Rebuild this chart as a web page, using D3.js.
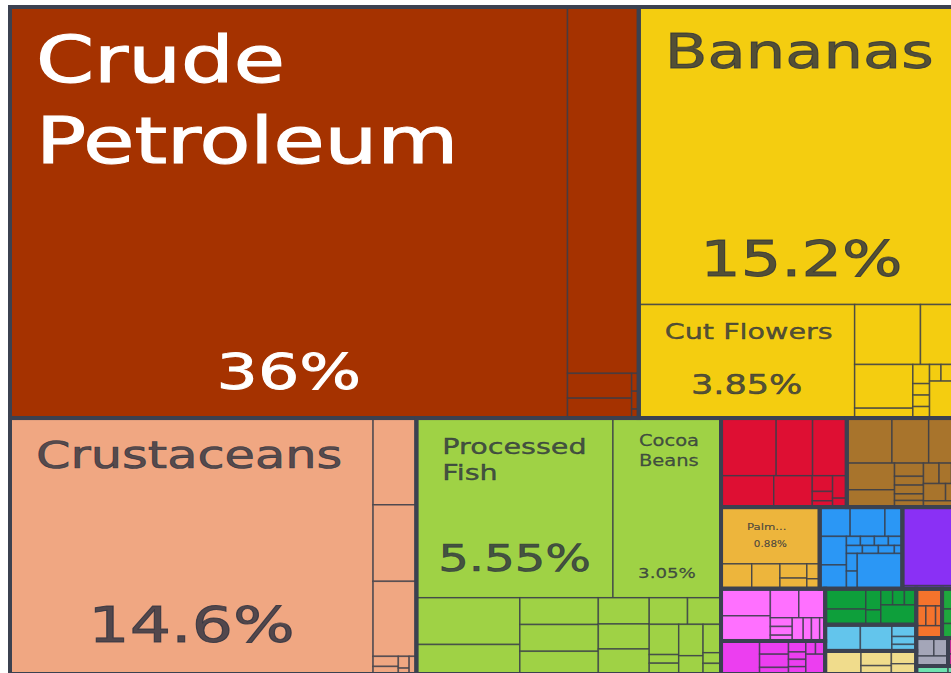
<!DOCTYPE html>
<html>
<head>
<meta charset="utf-8">
<script src="https://cdnjs.cloudflare.com/ajax/libs/d3/7.8.5/d3.min.js"></script>
<style>
  body { margin: 0; background: #fff; overflow: hidden; }
  svg { display: block; }
</style>
</head>
<body>
<div id="chart"></div>
<script>
// each block: [name, share of exports in %] for a product,
// ["h", [...]] for products side by side, ["v", [...]] for stacked ones
var mineralProducts = ["h", [
  ["Crude Petroleum", 36],
  ["v", [
    ["Refined Petroleum", 4.1],
    ["h", [
      ["v", [["Petroleum Gas", 0.25], ["Petroleum Coke", 0.2]]],
      ["v", [["Copper Ore", 0.02], ["Sulphur", 0.02], ["Gold Ore", 0.01]]]
    ]]
  ]]
]];

var vegetableProducts = ["v", [
  ["Bananas", 15.2],
  ["h", [
    ["Cut Flowers", 3.85],
    ["v", [
      ["h", [["Coffee", 0.62], ["Tropical Fruits", 0.41]]],
      ["h", [
        ["v", [["Other Fruits", 0.4], ["Vegetable Saps", 0.09]]],
        ["h", [
          ["v", [["Rice", 0.05], ["Seeds", 0.03], ["Tea", 0.03], ["Pepper", 0.03]]],
          ["v", [["h", [["Citrus", 0.03], ["Melons", 0.03], ["Nuts", 0.03]]], ["Live Plants", 0.2]]]
        ]]
      ]]
    ]]
  ]]
]];

var animalProducts = ["h", [
  ["Crustaceans", 14.6],
  ["v", [
    ["Fish Fillets", 0.59], ["Frozen Fish", 0.52], ["Fresh Fish", 0.51],
    ["h", [
      ["v", [["Molluscs", 0.04], ["Fish Meal", 0.03]]],
      ["v", [["Live Fish", 0.02], ["Shark Fins", 0.01]]],
      ["Dried Fish", 0.02]
    ]]
  ]]
]];

var foodstuffs = ["v", [
  ["h", [["Processed Fish", 5.55], ["Cocoa Beans", 3.05]]],
  ["h", [
    ["v", [["Processed Crustaceans", 0.76], ["Animal Food", 0.48]]],
    ["v", [["Cocoa Paste", 0.33], ["Cocoa Butter", 0.33], ["Fruit Juice", 0.28]]],
    ["v", [["Coffee Extracts", 0.21], ["Raw Sugar", 0.2], ["Chocolate", 0.2]]],
    ["v", [
      ["h", [["Processed Fruits", 0.16], ["Cocoa Powder", 0.14]]],
      ["h", [
        ["v", [["Flours", 0.14], ["Sauces", 0.04], ["Baked Goods", 0.05]]],
        ["v", [["Hard Liquor", 0.12], ["Pasta", 0.07]]],
        ["v", [["Water", 0.08], ["Beer", 0.03], ["Wine", 0.03]]]
      ]]
    ]]
  ]]
]];

var preciousMetals = ["v", [
  ["h", [["Gold", 0.5], ["Silver", 0.33], ["Gold Scraps", 0.31]]],
  ["h", [
    ["Jewellery", 0.26], ["Precious Metal Scraps", 0.19],
    ["h", [
      ["v", [["Pearls", 0.05], ["Platinum", 0.03], ["Coins", 0.02]]],
      ["v", [["Precious Stones", 0.05], ["Imitation Jewellery", 0.02]]]
    ]]
  ]]
]];

var woodProducts = ["v", [
  ["h", [["Sawn Wood", 0.32], ["Veneer Sheets", 0.26], ["Wood Chips", 0.25]]],
  ["h", [
    ["v", [["Rough Wood", 0.2], ["Plywood", 0.13]]],
    ["v", [["Fibreboard", 0.06], ["Particle Board", 0.04], ["Wood Crates", 0.04], ["Wood Fuel", 0.03], ["Wood Frames", 0.03]]],
    ["v", [
      ["h", [["Wood Joinery", 0.05], ["Charcoal", 0.04], ["Cork", 0.04]]],
      ["h", [["Wood Carpentry", 0.06], ["Wood Kitchenware", 0.05]]],
      ["Wood Ornaments", 0.04]
    ]]
  ]]
]];

var animalVegetableBiProducts = ["v", [
  ["Palm Oil", 0.88],
  ["h", [
    ["Palm Kernel Oil", 0.12], ["Fatty Acids", 0.11],
    ["v", [["Margarine", 0.06], ["Soybean Oil", 0.045]]],
    ["v", [["Waxes", 0.03], ["Glycerol", 0.02]]]
  ]]
]];

var metals = ["v", [
  ["h", [["Copper Wire", 0.14], ["Iron Structures", 0.16], ["Scrap Iron", 0.08]]],
  ["h", [
    ["v", [["Aluminium Scrap", 0.12], ["Copper Scrap", 0.1]]],
    ["v", [
      ["h", [["Nails", 0.02], ["Screws", 0.02], ["Iron Pipes", 0.02], ["Lead Scrap", 0.02]]],
      ["h", [["Iron Bars", 0.02], ["Iron Wire", 0.02], ["Tanks", 0.02], ["Tools", 0.01]]],
      ["h", [["v", [["Iron Sheets", 0.03], ["Zinc", 0.03]]], ["Metal Cans", 0.25]]]
    ]]
  ]]
]];

var machines = ["v", [["Air Conditioners", 0.76], ["Electric Motors", 0.03]]];

var plasticsAndRubbers = ["h", [
  ["v", [["Plastic Lids", 0.21], ["Plastic Boxes", 0.195]]],
  ["v", [
    ["h", [["Rubber Tires", 0.13], ["Plastic Pipes", 0.12]]],
    ["h", [
      ["v", [["Rubber Sheets", 0.03], ["Plastic Film", 0.03], ["Rubber Belts", 0.02]]],
      ["Plastic Bags", 0.04], ["Raw Plastic", 0.03], ["Rubber Pipes", 0.03], ["Plastic Plates", 0.02]
    ]]
  ]]
]];

var chemicalProducts = ["h", [
  ["Packaged Medicaments", 0.2],
  ["v", [["Insecticides", 0.06], ["Beauty Products", 0.06], ["Soap", 0.03]]],
  ["v", [["Fertilizers", 0.03], ["Cleaning Products", 0.02], ["Perfumes", 0.02], ["Paints", 0.02]]],
  ["v", [["h", [["Glues", 0.02], ["Inks", 0.02]]], ["Essential Oils", 0.06]]]
]];

var textiles = ["h", [
  ["v", [["Cotton Yarn", 0.13], ["Knit T-shirts", 0.1]]],
  ["v", [["Sacks", 0.05], ["Fabrics", 0.035]]],
  ["v", [["h", [["Hats", 0.03], ["Socks", 0.03], ["Cordage", 0.03]]], ["Synthetic Fabrics", 0.11]]]
]];

var paperGoods = ["h", [
  ["Paper Containers", 0.145], ["Kraft Paper", 0.13],
  ["v", [["Labels", 0.045], ["Toilet Paper", 0.03], ["Printed Books", 0.025]]]
]];

var stoneAndGlass = ["h", [
  ["Cement", 0.13],
  ["v", [["Glass Bottles", 0.07], ["Ceramic Tiles", 0.04]]],
  ["v", [["Building Stone", 0.05], ["Gypsum", 0.04]]]
]];

var transportation = ["v", [["Vehicle Parts", 0.07], ["h", [["Trucks", 0.03], ["Ships", 0.03], ["Buses", 0.02]]], ["Motorcycles", 0.05]]];
var footwear = ["v", [["Footwear", 0.07], ["Leather Footwear", 0.05], ["Headwear", 0.05]]];
var instruments = ["v", [["h", [["Medical Instruments", 0.05], ["Optical Fibers", 0.04]]], ["Measuring Instruments", 0.05]]];
var miscellaneous = ["v", [["Furniture", 0.04], ["Toys", 0.03]]];
var animalHides = ["h", [["Tanned Hides", 0.04], ["Leather Goods", 0.02]]];

// how the sections sit in the map
var sectionLayout = ["v", [
  ["h", ["Mineral Products", "Vegetable Products"]],
  ["h", ["Animal Products", "Foodstuffs", ["v", [
    ["h", ["Precious Metals", "Wood Products"]],
    ["h", ["Animal and Vegetable Bi-Products", "Metals", "Machines"]],
    ["h", [
      ["v", ["Plastics and Rubbers", "Chemical Products"]],
      ["v", ["Textiles", "Paper Goods", "Stone And Glass"]],
      ["v", [["h", ["Transportation", "Footwear and Headwear"]], ["h", ["Instruments", "Miscellaneous"]], "Animal Hides"]]
    ]]
  ]]]]
]];

var sectionTiles = {
  "Mineral Products": mineralProducts,
  "Vegetable Products": vegetableProducts,
  "Animal Products": animalProducts,
  "Foodstuffs": foodstuffs,
  "Precious Metals": preciousMetals,
  "Wood Products": woodProducts,
  "Animal and Vegetable Bi-Products": animalVegetableBiProducts,
  "Metals": metals,
  "Machines": machines,
  "Plastics and Rubbers": plasticsAndRubbers,
  "Chemical Products": chemicalProducts,
  "Textiles": textiles,
  "Paper Goods": paperGoods,
  "Stone And Glass": stoneAndGlass,
  "Transportation": transportation,
  "Footwear and Headwear": footwear,
  "Instruments": instruments,
  "Miscellaneous": miscellaneous,
  "Animal Hides": animalHides
};

var sectionColors = {
  "Mineral Products": "#a53200",
  "Vegetable Products": "#f4cd10",
  "Animal Products": "#f0a782",
  "Foodstuffs": "#9fd245",
  "Precious Metals": "#de0f33",
  "Wood Products": "#a8742c",
  "Animal and Vegetable Bi-Products": "#edb53c",
  "Metals": "#2b97f5",
  "Machines": "#8a30f5",
  "Plastics and Rubbers": "#ff70ff",
  "Chemical Products": "#ec3ef0",
  "Textiles": "#0e9f3b",
  "Paper Goods": "#63c5ec",
  "Stone And Glass": "#f0dc8c",
  "Transportation": "#f5732c",
  "Footwear and Headwear": "#1fa83d",
  "Instruments": "#a4a6b8",
  "Miscellaneous": "#d6249e",
  "Animal Hides": "#6fe3b0"
};

// labels shown in the map (font sizes and offsets from the tile)
var SX = 1.3;
var labelStyle = {
  "Crude Petroleum": {lines: ["Crude", "Petroleum"], fs: 64, lh: 81, dy: 75, pfs: 50, pdy: 29, fill: "#fff"},
  "Bananas": {lines: ["Bananas"], fs: 48, lh: 0, dy: 61, pfs: 49, pdy: 29},
  "Crustaceans": {lines: ["Crustaceans"], fs: 38, lh: 0, dy: 50, pfs: 50, pdy: 32},
  "Cut Flowers": {lines: ["Cut Flowers"], fs: 22, lh: 0, dy: 34, pfs: 27, pdy: 24},
  "Processed Fish": {lines: ["Processed", "Fish"], fs: 22, lh: 26, dy: 36, pfs: 37, pdy: 27},
  "Cocoa Beans": {lines: ["Cocoa", "Beans"], fs: 15, lh: 20, dy: 28, pfs: 14, pdy: 20},
  "Palm Oil": {lines: ["Palm..."], fs: 9, lh: 0, dy: 23, pfs: 8, pdy: 17}
};

var width = 951, height = 673;
var margin = {top: 7, left: 10};
var mapW = 954, mapH = 667;

function build(node, section) {
  if (typeof node === "string") {
    var s = build(sectionTiles[node], node);
    s.name = node;
    s.isSection = true;
    return s;
  }
  if (typeof node[1] === "number") return {name: node[0], value: node[1], section: section};
  return {dir: node[0], section: section,
    children: node[1].map(function(c) { return build(c, section); })};
}

var root = d3.hierarchy(build(sectionLayout))
  .sum(function(d) { return d.value || 0; });

d3.treemap()
  .size([mapW, mapH])
  .tile(function(node, x0, y0, x1, y1) {
    (node.data.dir === "v" ? d3.treemapSlice : d3.treemapDice)(node, x0, y0, x1, y1);
  })(root);

var svg = d3.select("#chart")
  .append("svg")
  .attr("width", width)
  .attr("height", height)
  .style("font-family", "'DejaVu Sans', sans-serif");

var g = svg.append("g")
  .attr("transform", "translate(" + margin.left + "," + margin.top + ")");

// dark frame behind everything
g.append("rect")
  .attr("x", -2).attr("y", -2)
  .attr("width", mapW + 4).attr("height", mapH + 4)
  .attr("fill", "#3b4150");

g.selectAll("rect.tile")
  .data(root.leaves())
  .enter()
  .append("rect")
    .attr("class", "tile")
    .attr("x", function(d) { return d.x0; })
    .attr("y", function(d) { return d.y0; })
    .attr("width", function(d) { return d.x1 - d.x0; })
    .attr("height", function(d) { return d.y1 - d.y0; })
    .attr("fill", function(d) { return sectionColors[d.data.section]; })
    .attr("stroke", "rgba(58,62,74,0.75)")
    .attr("stroke-width", 1.5);

// thick borders round each section
g.selectAll("rect.section")
  .data(root.descendants().filter(function(d) { return d.data.isSection; }))
  .enter()
  .append("rect")
    .attr("class", "section")
    .attr("x", function(d) { return d.x0; })
    .attr("y", function(d) { return d.y0; })
    .attr("width", function(d) { return d.x1 - d.x0; })
    .attr("height", function(d) { return d.y1 - d.y0; })
    .attr("fill", "none")
    .attr("stroke", "#3b4150")
    .attr("stroke-width", 4);

var pct = d3.format(".3~r");

function addText(parent, x, y, str, fs, anchor, fill) {
  parent.append("text")
    .attr("transform", "translate(" + x + "," + y + ") scale(" + SX + ",1)")
    .attr("text-anchor", anchor)
    .style("font-size", fs + "px")
    .attr("fill", fill)
    .attr("stroke", fill)
    .attr("stroke-width", fs * 0.018)
    .text(str);
}

var labelled = root.leaves().filter(function(d) { return labelStyle[d.data.name]; });
labelled.forEach(function(d) {
  var st = labelStyle[d.data.name];
  var fill = st.fill || "rgba(43,48,62,0.8)";
  var lg = g.append("g").attr("class", "label");
  st.lines.forEach(function(line, i) {
    addText(lg, d.x0 + 26, d.y0 + st.dy + i * st.lh, line, st.fs, "start", fill);
  });
  addText(lg, (d.x0 + d.x1) / 2, d.y1 - st.pdy, pct(d.value) + "%", st.pfs, "middle", fill);
});
</script>
</body>
</html>
